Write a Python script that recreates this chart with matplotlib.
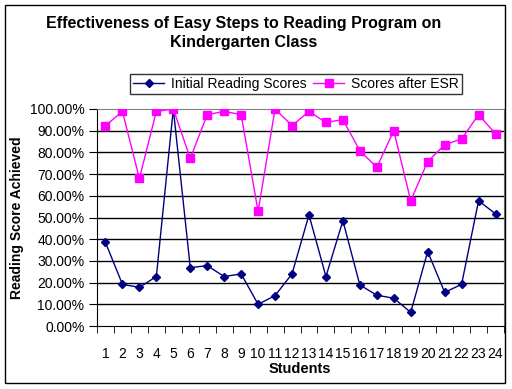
import matplotlib.pyplot as plt
from matplotlib.patches import Rectangle
from matplotlib.ticker import FuncFormatter, FixedLocator

plt.rcParams['font.family'] = ['Liberation Sans', 'DejaVu Sans']

students = list(range(1, 25))
initial_scores = [38.5, 19.2, 17.8, 22.8, 100.0, 26.9, 27.8, 22.8, 24.0, 10.0, 14.0, 24.0,
                  51.2, 22.8, 48.5, 18.9, 14.2, 12.8, 6.3, 34.3, 15.5, 19.2, 57.7, 51.7]
after_esr = [92.3, 98.9, 68.0, 98.9, 100.0, 77.2, 97.4, 98.9, 97.4, 52.8, 100.0, 92.3,
             98.9, 93.8, 95.1, 80.8, 73.1, 90.0, 57.7, 75.8, 83.5, 86.2, 97.4, 88.6]

fig = plt.figure(figsize=(5.12, 3.89), dpi=100)
ax = fig.add_axes([97 / 512, 1 - 326 / 389, 407 / 512, 217 / 389])

# gridlines first so lines sit above them
for v in range(10, 100, 10):
    ax.axhline(v, color='black', lw=1, zorder=1)

ax.plot(students, initial_scores, color='#000080', marker='D', markersize=4.5,
        lw=1, label='Initial Reading Scores', zorder=3)
ax.plot(students, after_esr, color='#FF00FF', marker='s', markersize=5.5,
        lw=1, label='Scores after ESR', zorder=3)

ax.set_xlim(0.5, 24.5)
ax.set_ylim(0, 100)
ax.set_yticks(range(0, 101, 10))
ax.yaxis.set_major_formatter(FuncFormatter(lambda v, p: f'{v:.2f}%'))
ax.set_xticks(students)
ax.set_xticklabels([str(s) for s in students])
ax.xaxis.set_minor_locator(FixedLocator([s + 0.5 for s in range(0, 25)]))
ax.tick_params(axis='x', which='major', length=0, pad=15, labelsize=10)
ax.tick_params(axis='x', which='minor', length=5, direction='out', color='black')
ax.tick_params(axis='y', length=6, direction='out', labelsize=10, pad=3)

for side in ['top', 'right']:
    ax.spines[side].set_color('#808080')
for side in ['left', 'bottom']:
    ax.spines[side].set_color('black')

ax.set_xlabel('Students', fontsize=10.5, fontweight='bold')
ax.xaxis.set_label_coords(300 / 512, 1 - 362 / 389, transform=fig.transFigure)
ax.set_ylabel('Reading Score Achieved', fontsize=10, fontweight='bold')
ax.yaxis.set_label_coords(24 / 512, 1 - 218 / 389, transform=fig.transFigure)

fig.text(244 / 512, 1 - 33 / 389, 'Effectiveness of Easy Steps to Reading Program on\nKindergarten Class',
         ha='center', va='center', fontsize=11.5, fontweight='bold', linespacing=1.3)

leg = fig.legend(loc='center', bbox_to_anchor=(296 / 512, 1 - 84 / 389), ncol=2,
                 fontsize=10, frameon=True, fancybox=False, edgecolor='black',
                 handlelength=2.2, columnspacing=0.5, handletextpad=0.5,
                 borderpad=0.25, borderaxespad=0)
leg.get_frame().set_linewidth(1)

fig.patches.append(Rectangle((5 / 512, 1 - 383 / 389), 500 / 512, 378 / 389,
                             transform=fig.transFigure, fill=False,
                             edgecolor='black', lw=1))

fig.savefig('out.png', dpi=100)
